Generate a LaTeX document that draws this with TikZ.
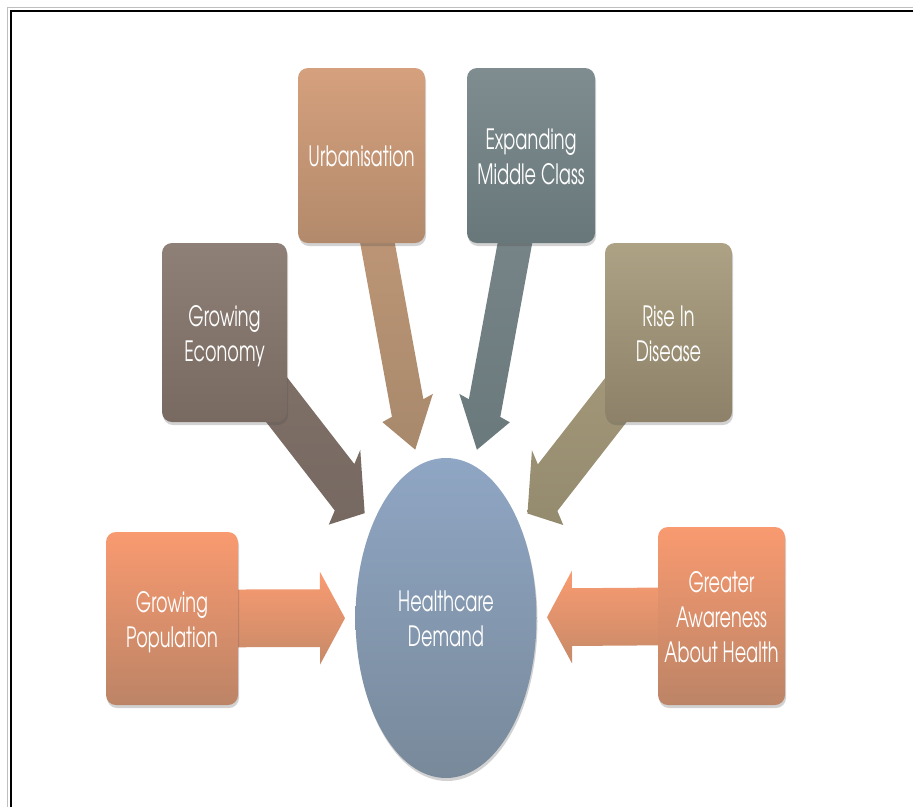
\documentclass[tikz,border=0pt]{standalone}
\usepackage{fontspec}
\setmainfont{texgyreadventor}[Extension=.otf, UprightFont=*-regular, BoldFont=*-bold, ItalicFont=*-italic, BoldItalicFont=*-bolditalic]
\usepackage{graphicx}
\usetikzlibrary{shapes.geometric,calc,shadows,backgrounds}

% box and arrow colours (top / bottom of each gradient)
\definecolor{orTop}{HTML}{F99A70}\definecolor{orBot}{HTML}{BC8466}
\definecolor{orATop}{HTML}{FA9B71}\definecolor{orABot}{HTML}{C68A68}
\definecolor{ecTop}{HTML}{8F8077}\definecolor{ecBot}{HTML}{786A61}
\definecolor{ecATop}{HTML}{827269}\definecolor{ecABot}{HTML}{766961}
\definecolor{urTop}{HTML}{D5A07D}\definecolor{urBot}{HTML}{B28A6B}
\definecolor{urATop}{HTML}{C49A79}\definecolor{urABot}{HTML}{A8896C}
\definecolor{emTop}{HTML}{7F8D90}\definecolor{emBot}{HTML}{68777A}
\definecolor{emATop}{HTML}{7C898C}\definecolor{emABot}{HTML}{6A797C}
\definecolor{riTop}{HTML}{ADA284}\definecolor{riBot}{HTML}{8D8169}
\definecolor{riATop}{HTML}{A89C7C}\definecolor{riABot}{HTML}{948A6E}
\definecolor{hdTop}{HTML}{8FA6C4}\definecolor{hdBot}{HTML}{78899A}

% condensed white label text
\newcommand\lbl[1]{\scalebox{0.63}[1]{\fontsize{28}{35}\selectfont\begin{tabular}{@{}c@{}}#1\end{tabular}}}

% radial block arrow: from the centre of node #1 towards node hd,
% built in an unstretched frame and stretched vertically by 1.75
\newcommand\rapoint[3]{%
  \pgfmathsetmacro\tmpx{\rahxn+(#2)*cos(\raa)-(#3)*sin(\raa)}%
  \pgfmathsetmacro\tmpy{\rahyn+1.75*((#2)*sin(\raa)+(#3)*cos(\raa))}%
  \coordinate (#1) at (\tmpx pt,\tmpy pt);}
\newcommand\radialarrow[3]{%
  \pgfpointanchor{hd}{center}\pgfgetlastxy{\rahx}{\rahy}%
  \pgfmathsetmacro\rahxn{\rahx}\pgfmathsetmacro\rahyn{\rahy}%
  \pgfpointdiff{\pgfpointanchor{hd}{center}}{\pgfpointanchor{#1}{center}}\pgfgetlastxy{\radx}{\rady}%
  \pgfmathsetmacro\raa{atan2(\rady/1.75,\radx)}%
  \pgfmathsetmacro\ral{veclen(\radx,\rady/1.75)}%
  \rapoint{#1-a1}{\ral}{16.5}\rapoint{#1-a2}{126}{16.5}\rapoint{#1-a3}{126}{26.5}%
  \rapoint{#1-a4}{101}{0}%
  \rapoint{#1-a5}{126}{-26.5}\rapoint{#1-a6}{126}{-16.5}\rapoint{#1-a7}{\ral}{-16.5}%
  \path[top color=#2, bottom color=#3] (#1-a1) -- (#1-a2) -- (#1-a3) -- (#1-a4)
    -- (#1-a5) -- (#1-a6) -- (#1-a7) -- cycle;}

\tikzset{
  softshadow/.style={drop shadow={shadow xshift=1pt, shadow yshift=-3pt, opacity=0.25, fill=black!70}},
  factor/.style={rectangle, rounded corners=10pt, inner sep=0pt, softshadow},
  hub/.style={ellipse, inner sep=0pt, minimum width=181pt, minimum height=320pt, softshadow},
  caption/.style={text=white, inner sep=0pt, yshift=-4pt},
}

\begin{document}
\begin{tikzpicture}[x=1pt, y=-1pt]
\useasboundingbox (0,0) rectangle (913,807);

% page frame
\draw[black!25, line width=1pt] (7.5,807) -- (7.5,7.5) -- (913,7.5);
\draw[line width=2pt] (10.5,807) -- (10.5,10.5) -- (913,10.5);

% centre
\node[hub, top color=hdTop, bottom color=hdBot] (hd) at (446,618) {};
\node[caption] (hd-t) at (hd.center) {\lbl{Healthcare\\Demand}};

% drivers
\node[factor, minimum width=132pt, minimum height=173pt, top color=orTop, bottom color=orBot]
  (pop) at (172,618.5) {};
\node[factor, minimum width=127pt, minimum height=178pt, top color=orTop, bottom color=orBot]
  (gae) at (721.5,616) {};
\node[factor, minimum width=125pt, minimum height=179pt, top color=ecTop, bottom color=ecBot]
  (eco) at (224.5,332.5) {};
\node[factor, minimum width=127pt, minimum height=175pt, top color=urTop, bottom color=urBot]
  (urb) at (361.5,155.5) {};
\node[factor, minimum width=128pt, minimum height=175pt, top color=emTop, bottom color=emBot]
  (emc) at (531,155.5) {};
\node[factor, minimum width=127pt, minimum height=179pt, top color=riTop, bottom color=riBot]
  (rid) at (668.5,332.5) {};

\node[caption] (pop-t) at (pop.center) {\lbl{Growing\\Population}};
\node[caption] (gae-t) at (gae.center) {\lbl{Greater\\Awareness\\About Health}};
\node[caption] (eco-t) at (eco.center) {\lbl{Growing\\Economy}};
\node[caption] (urb-t) at (urb.center) {\lbl{Urbanisation}};
\node[caption] (emc-t) at (emc.center) {\lbl{Expanding\\Middle Class}};
\node[caption] (rid-t) at (rid.center) {\lbl{Rise In\\Disease}};

% block arrows behind the boxes
\begin{scope}[on background layer]
  \radialarrow{pop}{orATop}{orABot}
  \radialarrow{gae}{orATop}{orABot}
  \radialarrow{eco}{ecATop}{ecABot}
  \radialarrow{urb}{urATop}{urABot}
  \radialarrow{emc}{emATop}{emABot}
  \radialarrow{rid}{riATop}{riABot}
\end{scope}
\end{tikzpicture}
\end{document}
